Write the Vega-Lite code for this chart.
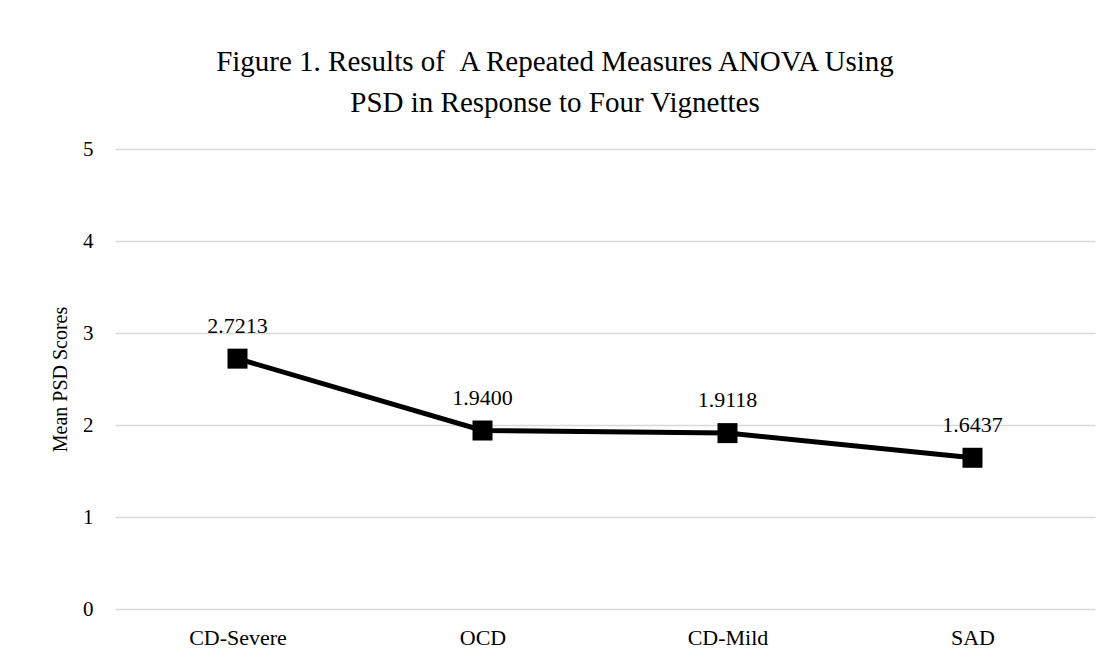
{
  "$schema": "https://vega.github.io/schema/vega-lite/v6.json",
  "width": 980,
  "height": 460,
  "autosize": "none",
  "padding": {"left": 115, "top": 149, "right": 16, "bottom": 62},
  "background": "white",
  "title": {
    "text": ["Figure 1. Results of \u00a0A Repeated Measures ANOVA Using", "PSD in Response to Four Vignettes"],
    "font": "Liberation Serif",
    "fontSize": 29,
    "fontWeight": "normal",
    "color": "#000000",
    "anchor": "middle",
    "dx": -50,
    "lineHeight": 41,
    "offset": 20
  },
  "config": {
    "view": {"stroke": null},
    "font": "Liberation Serif"
  },
  "data": {
    "values": [
      {"vignette": "CD-Severe", "score": 2.7213, "label": "2.7213"},
      {"vignette": "OCD", "score": 1.94, "label": "1.9400"},
      {"vignette": "CD-Mild", "score": 1.9118, "label": "1.9118"},
      {"vignette": "SAD", "score": 1.6437, "label": "1.6437"}
    ]
  },
  "encoding": {
    "x": {
      "field": "vignette",
      "type": "nominal",
      "sort": null,
      "scale": {"paddingInner": 0, "paddingOuter": 0},
      "axis": {
        "title": null,
        "labelAngle": 0,
        "labelFont": "Liberation Serif",
        "labelFontSize": 22,
        "labelColor": "#000000",
        "labelPadding": 18,
        "domain": false,
        "ticks": false,
        "grid": false
      }
    },
    "y": {
      "field": "score",
      "type": "quantitative",
      "scale": {"domain": [0, 5]},
      "axis": {
        "title": "Mean PSD Scores",
        "titleFont": "Liberation Serif",
        "titleFontSize": 20,
        "titleFontWeight": "normal",
        "titleColor": "#000000",
        "titlePadding": 12,
        "values": [0, 1, 2, 3, 4, 5],
        "labelFont": "Liberation Serif",
        "labelFontSize": 21,
        "labelColor": "#000000",
        "labelPadding": 22,
        "domain": false,
        "ticks": false,
        "grid": true,
        "gridColor": "#d9d9d9",
        "gridWidth": 1.5
      }
    }
  },
  "layer": [
    {"mark": {"type": "line", "color": "#000000", "strokeWidth": 5}},
    {"mark": {"type": "point", "shape": "square", "filled": true, "color": "#000000", "size": 400, "opacity": 1}},
    {
      "mark": {"type": "text", "dy": -33, "baseline": "middle", "font": "Liberation Serif", "fontSize": 22, "color": "#000000"},
      "encoding": {"text": {"field": "label"}}
    }
  ]
}
